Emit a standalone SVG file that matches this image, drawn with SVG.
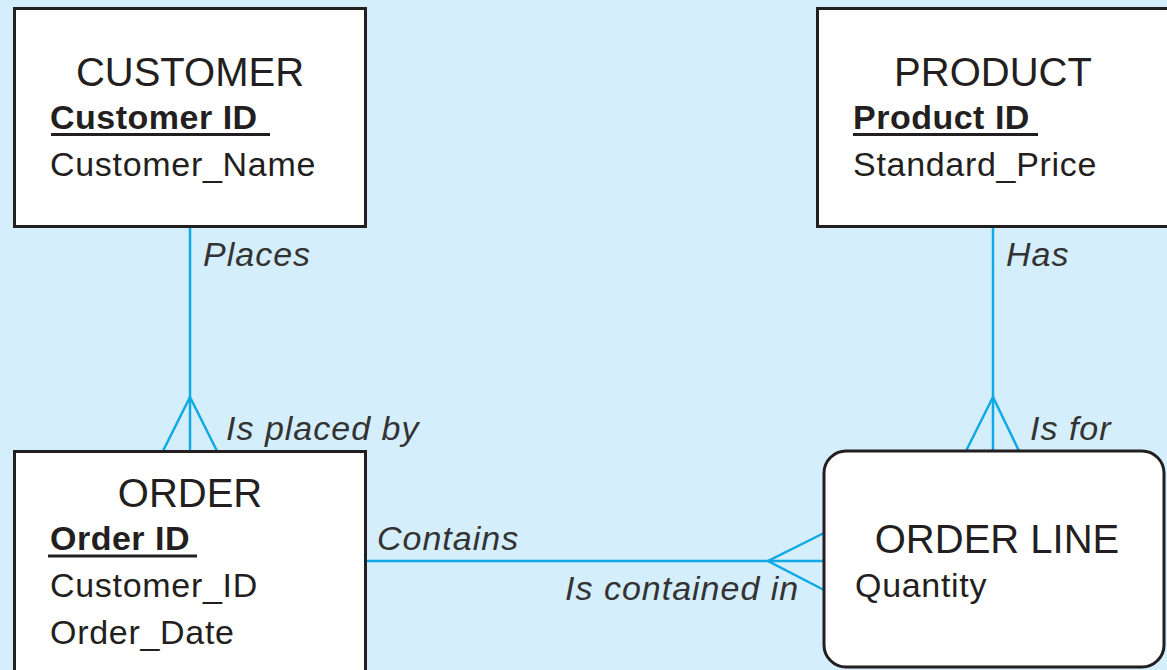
<svg xmlns="http://www.w3.org/2000/svg" width="1167" height="670" viewBox="0 0 1167 670">
<style>
.box{fill:#fff;stroke:#231f20;stroke-width:3}
.ln{stroke:#0fa9e6;stroke-width:2.5;fill:none}
.t{font-family:"Liberation Sans",Arial,sans-serif;fill:#231f20}
.title{font-size:40px}
.key{font-size:34px;font-weight:bold;letter-spacing:0.5px}
.attr{font-size:34px;letter-spacing:0.7px}
.rel{font-family:"Liberation Sans",Arial,sans-serif;font-size:34px;font-style:italic;fill:#333;letter-spacing:1px}
.ul{stroke:#231f20;stroke-width:3}
</style>
<rect width="1167" height="670" fill="#d5eefb"/>
<g id="connectors">
<g id="customer-order">
<line class="ln" x1="190" y1="227" x2="190" y2="451"/>
<polyline class="ln" points="163,451 190,397 217,451"/>
</g>
<g id="product-orderline">
<line class="ln" x1="993" y1="227" x2="993" y2="451"/>
<polyline class="ln" points="966,451 993,397 1019,451"/>
</g>
<g id="order-orderline">
<line class="ln" x1="366" y1="561" x2="824" y2="561"/>
<polyline class="ln" points="824,533 768,561 824,590"/>
</g>
<text class="rel" x="203" y="266">Places</text>
<text class="rel" x="226" y="440">Is placed by</text>
<text class="rel" x="1006" y="266">Has</text>
<text class="rel" x="1030" y="440">Is for</text>
<text class="rel" x="377" y="550">Contains</text>
<text class="rel" x="565" y="600">Is contained in</text>
</g>
<g id="customer">
<rect class="box" x="14.5" y="8.5" width="351" height="218"/>
<text class="t title" x="190" y="86" text-anchor="middle">CUSTOMER</text>
<text class="t key" x="50" y="129">Customer ID</text>
<line class="ul" x1="51" y1="134.5" x2="270" y2="134.5"/>
<text class="t attr" x="50" y="176">Customer_Name</text>
</g>
<g id="product">
<rect class="box" x="817.5" y="8.5" width="360" height="218"/>
<text class="t title" x="993" y="86" text-anchor="middle">PRODUCT</text>
<text class="t key" x="853" y="129">Product ID</text>
<line class="ul" x1="853" y1="134.5" x2="1038" y2="134.5"/>
<text class="t attr" x="853" y="176">Standard_Price</text>
</g>
<g id="order">
<rect class="box" x="14.5" y="451.5" width="351" height="240"/>
<text class="t title" x="190" y="507" text-anchor="middle">ORDER</text>
<text class="t key" x="50" y="550">Order ID</text>
<line class="ul" x1="48" y1="556" x2="197" y2="556"/>
<text class="t attr" x="50" y="597">Customer_ID</text>
<text class="t attr" x="50" y="644">Order_Date</text>
</g>
<g id="orderline">
<rect class="box" x="824" y="451" width="340" height="216" rx="22" ry="22"/>
<text class="t title" x="997" y="553" text-anchor="middle">ORDER LINE</text>
<text class="t attr" x="855" y="597">Quantity</text>
</g>
</svg>
